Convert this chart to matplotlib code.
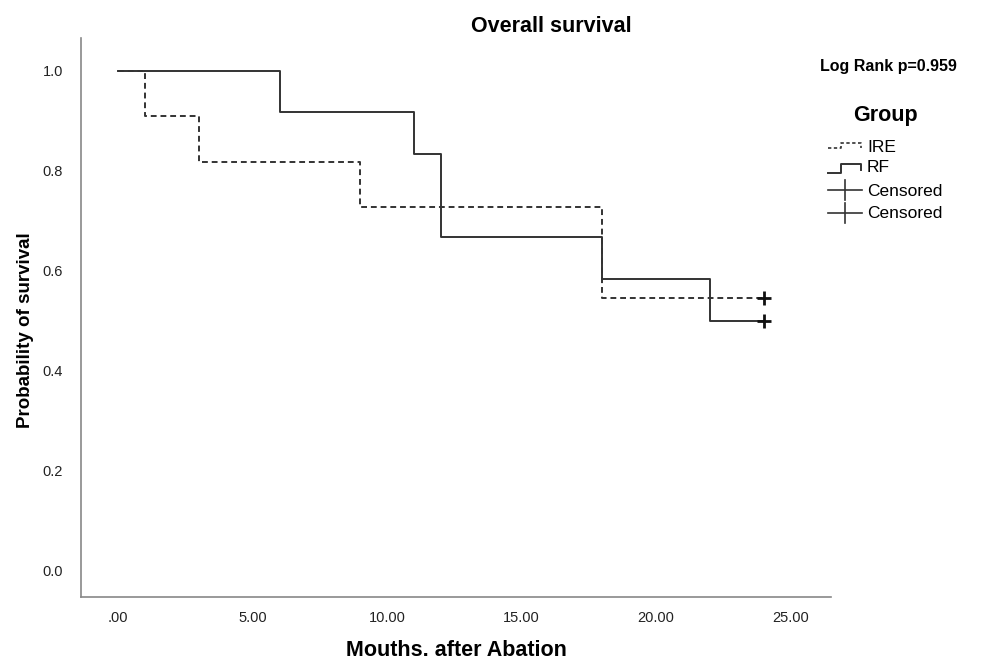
import matplotlib
matplotlib.use("Agg")
import matplotlib.pyplot as plt
from matplotlib.lines import Line2D
import numpy as np

# Kaplan-Meier step data
ire_time = [0, 1, 3, 9, 18, 24]
ire_surv = [1.0, 0.909, 0.818, 0.727, 0.545, 0.545]
rf_time = [0, 6, 11, 12, 18, 22, 24]
rf_surv = [1.0, 0.917, 0.833, 0.667, 0.583, 0.500, 0.500]
censor_time = [24, 24]
censor_surv = [0.545, 0.500]

xticks = [0, 5, 10, 15, 20, 25]
xticklabels = [".00", "5.00", "10.00", "15.00", "20.00", "25.00"]
yticks = [0.0, 0.2, 0.4, 0.6, 0.8, 1.0]
yticklabels = ["0.0", "0.2", "0.4", "0.6", "0.8", "1.0"]

plt.rcParams['font.family'] = ['Liberation Sans', 'DejaVu Sans']

W, H = 996, 663
fig = plt.figure(figsize=(W / 100, H / 100), dpi=100)
ax = fig.add_axes([81 / W, 1 - 597 / H, (831 - 81) / W, (597 - 38) / H])

col = '#333333'
ax.step(ire_time, ire_surv, where='post', color=col, lw=1.4, ls=(0, (3, 2)))
ax.step(rf_time, rf_surv, where='post', color=col, lw=1.4)
ax.plot(censor_time, censor_surv, ls='none', marker='+', ms=10, mew=2, color='#111111')

ax.set_xlim(-1.38, 26.5)
ax.set_ylim(-0.052, 1.065)
ax.set_xticks(xticks)
ax.set_xticklabels(xticklabels, fontsize=10.5, color='#222222')
ax.set_yticks(yticks)
ax.set_yticklabels(yticklabels, fontsize=10.5, color='#222222')
ax.tick_params(axis='x', length=0, pad=10)
ax.tick_params(axis='y', length=0, pad=13)
for s in ['top', 'right']:
    ax.spines[s].set_visible(False)
for s in ['left', 'bottom']:
    ax.spines[s].set_color('#888888')
    ax.spines[s].set_linewidth(1.2)

ax.set_xlabel("Mouths. after Abation", fontsize=15.5, fontweight='bold', labelpad=11)
ax.set_ylabel("Probability of survival", fontsize=13.5, fontweight='bold')
ax.yaxis.set_label_coords((34 - 81) / 750, (597 - 330) / 559)

fig.text(551 / W, 1 - 26 / H, "Overall survival", ha='center', va='center', fontsize=15.5, fontweight='bold')
fig.text(820 / W, 1 - 66 / H, "Log Rank p=0.959", ha='left', va='center', fontsize=11.5, fontweight='bold')
fig.text(853 / W, 1 - 115 / H, "Group", ha='left', va='center', fontsize=15.5, fontweight='bold')

# legend handles (figure pixel coords converted)
def fl(xs, ys, **kw):
    fig.add_artist(Line2D([x / W for x in xs], [1 - y / H for y in ys], transform=fig.transFigure, **kw))

fl([828, 841, 841, 861, 861], [148, 148, 143, 143, 148], color=col, lw=1.2, ls=(0, (2, 1.5)))
fl([828, 841, 841, 861, 861], [173, 173, 164, 164, 170], color=col, lw=1.4)
for yy in [190, 213]:
    fl([828, 862], [yy, yy], color=col, lw=1.2)
    fl([845, 845], [yy - 10, yy + 10], color=col, lw=1.2)

for label, yy in [("IRE", 147), ("RF", 168), ("Censored", 191), ("Censored", 214)]:
    fig.text(867 / W, 1 - yy / H, label, ha='left', va='center', fontsize=12.5)

fig.savefig("out.png", dpi=100, facecolor='white')
